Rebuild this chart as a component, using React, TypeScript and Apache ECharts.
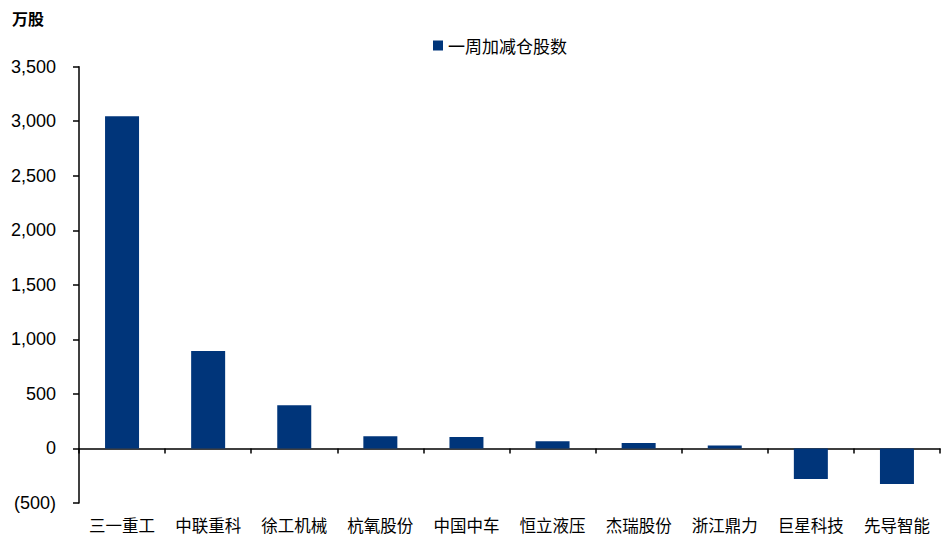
import React, { useEffect, useRef } from "react";
import * as echarts from "echarts";

const categories = ["三一重工", "中联重科", "徐工机械", "杭氧股份", "中国中车", "恒立液压", "杰瑞股份", "浙江鼎力", "巨星科技", "先导智能"];
const weeklyChange = [3045, 893, 397, 113, 104, 67, 49, 28, -279, -325];
const seriesName = "一周加减仓股数";
const unitLabel = "万股";

export default function App() {
  const ref = useRef<HTMLDivElement>(null);
  useEffect(() => {
    const chart = echarts.init(ref.current!, null, { renderer: "svg" });
    chart.setOption({
      animation: false,
      backgroundColor: "#ffffff",
      title: {
        text: unitLabel,
        left: 7,
        top: 5,
        textStyle: { fontSize: 16, fontWeight: "bold", color: "#000", fontFamily: "Noto Sans CJK SC" },
      },
      legend: {
        data: [seriesName],
        left: 428,
        top: 32,
        icon: "rect",
        itemWidth: 10,
        itemHeight: 10,
        itemGap: 4,
        textStyle: { fontSize: 17, color: "#000", fontFamily: "Noto Sans CJK SC" },
      },
      grid: { left: 79, right: 6, top: 66.7, bottom: 34, containLabel: false },
      xAxis: [
        {
          type: "category",
          data: categories,
          boundaryGap: true,
          axisLine: { onZero: true, lineStyle: { color: "#000", width: 1.5 } },
          axisTick: { show: true, length: 5, inside: false, lineStyle: { color: "#000", width: 1.5 } },
          axisLabel: { show: false },
        },
        {
          type: "category",
          data: categories,
          position: "bottom",
          axisLine: { show: false, onZero: false },
          axisTick: { show: false },
          axisLabel: { show: true, interval: 0, margin: 14, fontSize: 16.5, color: "#000", fontFamily: "Noto Sans CJK SC" },
        },
      ],
      yAxis: {
        type: "value",
        min: -500,
        max: 3500,
        interval: 500,
        splitLine: { show: false },
        axisLine: { show: true, lineStyle: { color: "#000", width: 1.5 } },
        axisTick: { show: true, length: 6, lineStyle: { color: "#000", width: 1.5 } },
        axisLabel: {
          fontSize: 18,
          color: "#000",
          margin: 23,
          fontFamily: "Liberation Sans, Arial",
          formatter: (v: number) => {
            const s = Math.abs(v).toLocaleString("en-US");
            return v < 0 ? `(${s})` : s;
          },
        },
      },
      series: [
        {
          name: seriesName,
          type: "bar",
          data: weeklyChange,
          barWidth: 34,
          itemStyle: { color: "#00357A" },
          xAxisIndex: 0,
        },
      ],
    });
    return () => chart.dispose();
  }, []);
  return <div ref={ref} style={{ position: "absolute", left: 0, top: 0, width: 946, height: 537 }} />;
}
